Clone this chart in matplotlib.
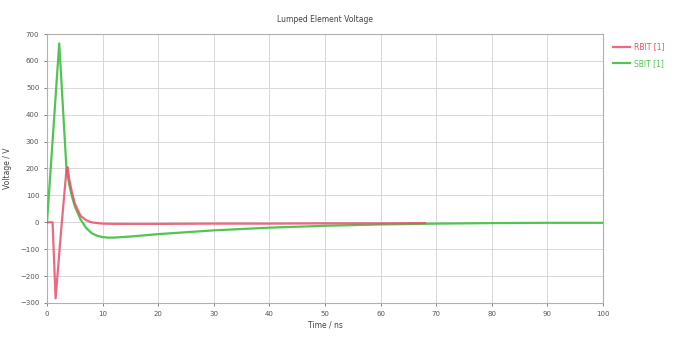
import matplotlib
matplotlib.use("Agg")
import matplotlib.pyplot as plt

title = "Lumped Element Voltage"
x_label = "Time / ns"
y_label = "Voltage / V"
series_names = ["RBIT [1]", "SBIT [1]"]

t_red = [0, 0.5, 1.0, 1.55, 2.5, 3.5, 3.7, 4.0, 4.5, 5, 6, 7, 8, 9, 10, 12, 15, 20, 30, 40, 50, 60, 68]
v_red = [0, 0, 0, -283, -40, 195, 205, 160, 110, 70, 25, 8, 0, -3, -5, -6, -6, -6, -5, -5, -4, -4, -3]

t_green = [0, 1.0, 2.2, 3.5, 4.0, 4.5, 5, 6, 7, 8, 9, 10, 11, 12, 15, 20, 30, 40, 50, 60, 70, 80, 90, 100]
v_green = [0, 300, 665, 200, 140, 95, 60, 12, -20, -40, -50, -55, -57, -57, -53, -44, -30, -20, -13, -8, -5, -3, -2, -2]

x_ticks = list(range(0, 101, 10))
y_ticks = list(range(-300, 701, 100))

red = "#e8506a"
green = "#52c452"

fig = plt.figure(figsize=(6.85, 3.38), dpi=100)
ax = fig.add_axes([0.0686, 0.1036, 0.8117, 0.7958])

ax.plot(t_green, v_green, color=green, lw=1.6, label=series_names[1], zorder=3)
ax.plot(t_red, v_red, color=red, lw=1.6, alpha=0.85, label=series_names[0], zorder=4)

ax.set_xlim(0, 100)
ax.set_ylim(-300, 700)
ax.set_xticks(x_ticks)
ax.set_yticks(y_ticks)
ax.tick_params(labelsize=5, colors="#555555", length=2, width=0.5)
ax.grid(True, color="#d8d8d8", lw=0.7)
ax.set_axisbelow(True)
for s in ax.spines.values():
    s.set_color("#b0b0b0")
    s.set_linewidth(0.8)

ax.set_title(title, fontsize=5.5, color="#444444", pad=9)
ax.set_xlabel(x_label, fontsize=5.5, color="#444444", labelpad=3)
ax.set_ylabel(y_label, fontsize=5.5, color="#444444", labelpad=6)

handles, labels = ax.get_legend_handles_labels()
order = [1, 0]
leg = fig.legend([handles[i] for i in order], [labels[i] for i in order],
                 loc="upper left", bbox_to_anchor=(0.885, 0.895), frameon=False,
                 fontsize=5.5, handlelength=2.2, handletextpad=0.5, labelspacing=1.0)
for txt, h in zip(leg.get_texts(), leg.legend_handles):
    txt.set_color(h.get_color())

fig.savefig("out.png", dpi=100)
